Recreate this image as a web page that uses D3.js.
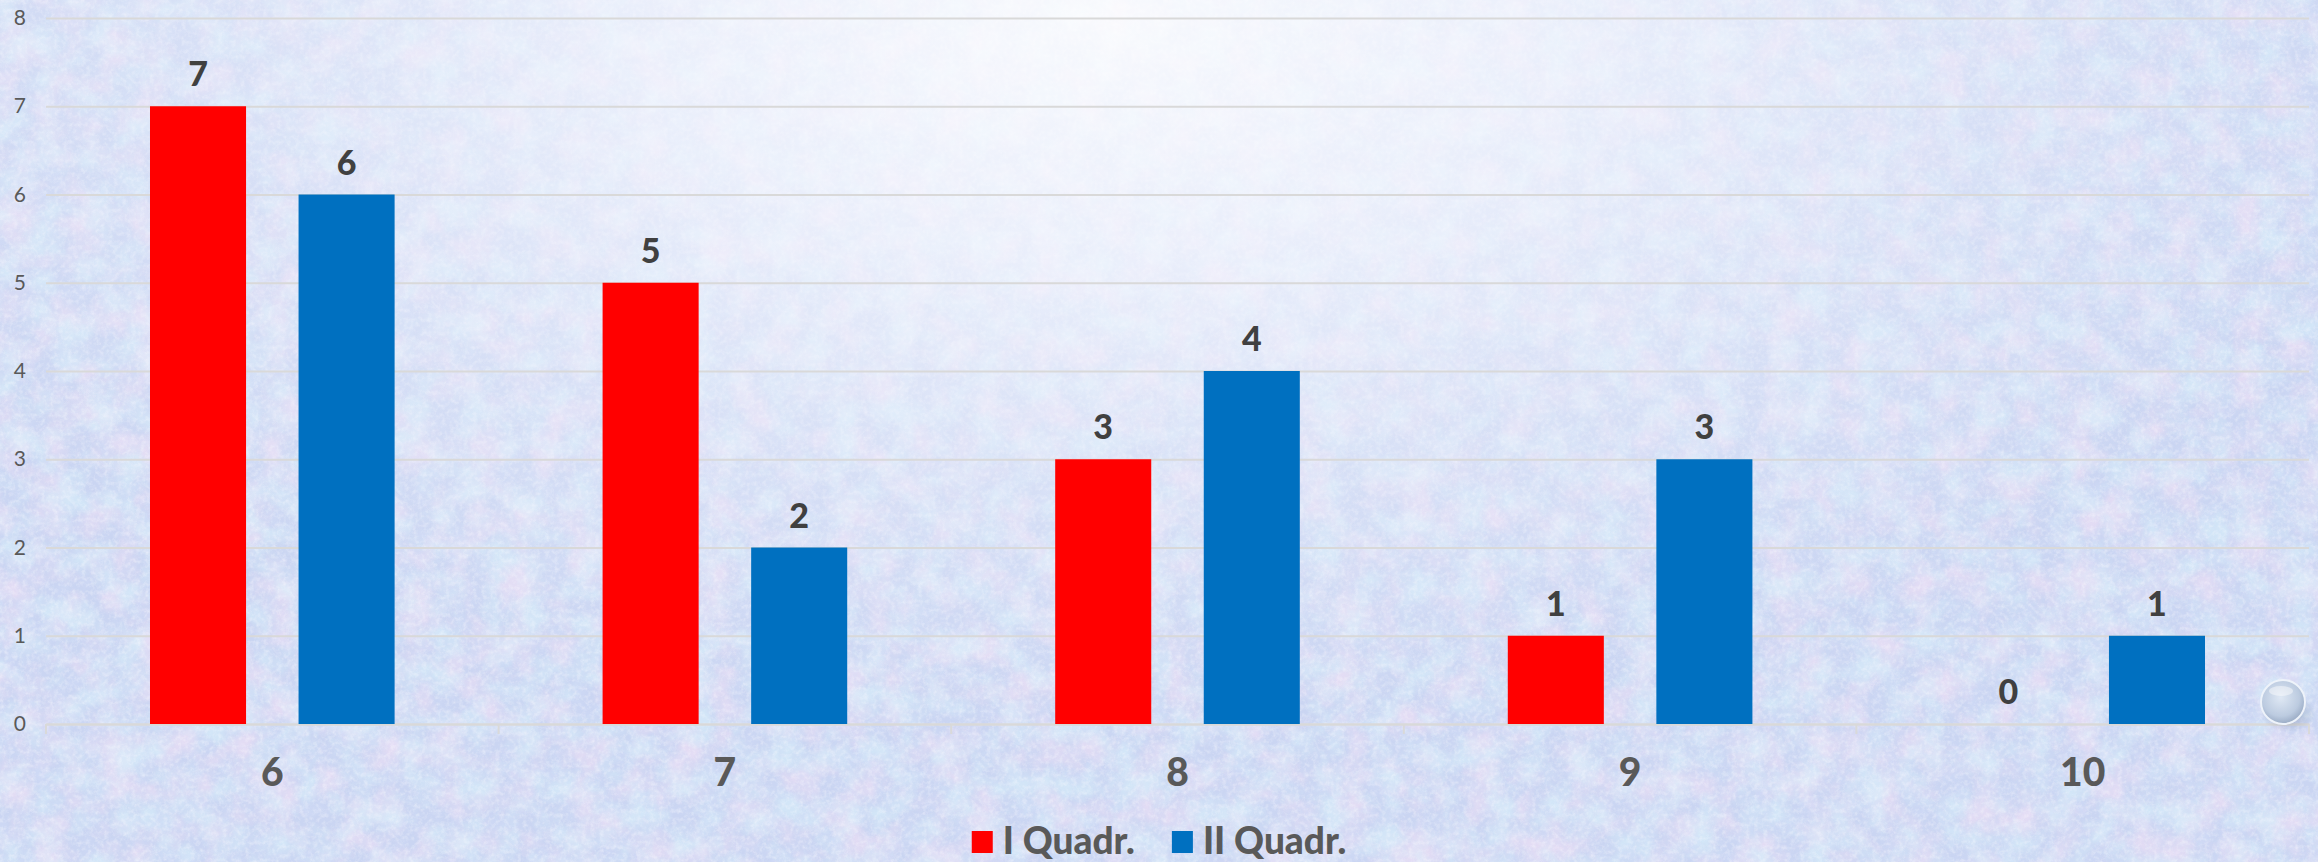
<!DOCTYPE html>
<html>
<head>
<meta charset="utf-8">
<script src="https://cdn.jsdelivr.net/npm/d3@7/dist/d3.min.js"></script>
<style>
  html, body { margin: 0; padding: 0; overflow: hidden; background: #c9d4f0; }
  svg { display: block; }
  text { font-family: "Lato", "Open Sans", sans-serif; }
</style>
</head>
<body>
<svg id="chart" width="2318" height="862"></svg>
<script>
// ---- data ----
const categories = ["6", "7", "8", "9", "10"];
const seriesNames = ["I Quadr.", "II Quadr."];
const seriesI = [7, 5, 3, 1, 0];
const seriesII = [6, 2, 4, 3, 1];
const yTicks = [0, 1, 2, 3, 4, 5, 6, 7, 8];
const colors = ["#FF0000", "#0070C0"];

const W = 2318, H = 862;
const svg = d3.select("#chart");
const defs = svg.append("defs");

// ---- background ----
function noiseFilter(id, freq, seed, rgb, k, b) {
  const f = defs.append("filter").attr("id", id).attr("x", 0).attr("y", 0).attr("width", "100%").attr("height", "100%");
  f.append("feTurbulence").attr("type", "fractalNoise").attr("baseFrequency", freq).attr("numOctaves", 4).attr("seed", seed);
  f.append("feColorMatrix").attr("type", "matrix")
    .attr("values", `0 0 0 0 ${rgb[0]}  0 0 0 0 ${rgb[1]}  0 0 0 0 ${rgb[2]}  ${k} 0 0 0 ${b}`);
}
noiseFilter("noisePink", 0.03, 3, [0.93, 0.76, 0.92], 2.4, -0.95);
noiseFilter("noiseCyan", 0.035, 11, [0.70, 0.90, 0.97], 2.4, -0.95);
noiseFilter("noiseBlue", 0.06, 21, [0.66, 0.74, 0.95], 2.0, -0.8);
noiseFilter("noiseFine", 0.22, 5, [0.97, 0.97, 1.0], 1.8, -0.75);

const glow2 = defs.append("radialGradient").attr("id", "glow2");
glow2.append("stop").attr("offset", "0%").attr("stop-color", "#ffffff").attr("stop-opacity", 0.85);
glow2.append("stop").attr("offset", "35%").attr("stop-color", "#f6f8fe").attr("stop-opacity", 0.7);
glow2.append("stop").attr("offset", "70%").attr("stop-color", "#eef2fc").attr("stop-opacity", 0.3);
glow2.append("stop").attr("offset", "100%").attr("stop-color", "#eef2fc").attr("stop-opacity", 0);

const bg = svg.append("g");
bg.append("rect").attr("width", W).attr("height", H).attr("fill", "#cad5f2");
bg.append("rect").attr("width", W).attr("height", H).attr("filter", "url(#noiseBlue)").attr("opacity", 0.45);
bg.append("rect").attr("width", W).attr("height", H).attr("filter", "url(#noisePink)").attr("opacity", 0.55);
bg.append("rect").attr("width", W).attr("height", H).attr("filter", "url(#noiseCyan)").attr("opacity", 0.55);
bg.append("rect").attr("width", W).attr("height", H).attr("filter", "url(#noiseFine)").attr("opacity", 0.45);
bg.append("ellipse").attr("cx", 1100).attr("cy", 20).attr("rx", 1350).attr("ry", 700).attr("fill", "url(#glow2)");

// ---- scales ----
const plot = { left: 46, right: 2309, top: 18, bottom: 724 };
const x = d3.scaleBand().domain(categories).range([plot.left, plot.right]).paddingInner(0).paddingOuter(0);
const xs = d3.scaleBand().domain(seriesNames).range([0, x.bandwidth()]).paddingInner(0.3535).paddingOuter(0.70);
const y = d3.scaleLinear().domain([0, 8]).range([plot.bottom, plot.top]);

// ---- gridlines & y labels ----
const yAxis = d3.axisLeft(y).tickValues(yTicks).tickFormat(d3.format("d"))
  .tickSize(-(plot.right - plot.left)).tickPadding(20);
const gy = svg.append("g").attr("transform", `translate(${plot.left},0)`).call(yAxis);
gy.select(".domain").remove();
gy.selectAll(".tick line").attr("stroke", "#d9d9d9").attr("stroke-width", 2);
gy.selectAll(".tick text").attr("fill", "#595959").attr("font-size", 21).attr("font-family", "Lato, sans-serif");

// ---- x axis ----
const xAxis = d3.axisBottom(x).tickSize(0).tickPadding(34);
const gx = svg.append("g").attr("transform", `translate(0,${plot.bottom})`).call(xAxis);
gx.select(".domain").attr("stroke", "#d9d9d9").attr("stroke-width", 2);
gx.selectAll(".tick text").attr("fill", "#595959").attr("font-size", 39).attr("font-weight", 900)
  .attr("font-family", "Lato, sans-serif");
// boundary tick marks
const bounds = categories.map(c => x(c)).concat([plot.right]);
gx.selectAll(".btick").data(bounds).enter().append("line")
  .attr("x1", d => d).attr("x2", d => d).attr("y1", 0).attr("y2", 10)
  .attr("stroke", "#d9d9d9").attr("stroke-width", 2);

// ---- bars ----
const rows = categories.map((c, i) => ({ cat: c, vals: [seriesI[i], seriesII[i]] }));
const groups = svg.append("g").selectAll("g").data(rows).enter().append("g")
  .attr("transform", d => `translate(${x(d.cat)},0)`);
groups.selectAll("rect").data(d => d.vals.map((v, k) => ({ v, k }))).enter().append("rect")
  .attr("x", d => xs(seriesNames[d.k]))
  .attr("width", xs.bandwidth())
  .attr("y", d => y(d.v))
  .attr("height", d => y(0) - y(d.v))
  .attr("fill", d => colors[d.k]);
groups.selectAll("text").data(d => d.vals.map((v, k) => ({ v, k }))).enter().append("text")
  .attr("x", d => xs(seriesNames[d.k]) + xs.bandwidth() / 2)
  .attr("y", d => y(d.v) - 20)
  .attr("text-anchor", "middle")
  .attr("fill", "#404040").attr("font-size", 34).attr("font-weight", 900)
  .text(d => d.v);

// ---- legend ----
const lg = svg.append("g");
const items = lg.selectAll("g").data(seriesNames).enter().append("g");
items.append("rect").attr("width", 21).attr("height", 22).attr("y", -23).attr("fill", (d, i) => colors[i]);
items.append("text").attr("x", 31).attr("y", 0).attr("fill", "#595959").attr("font-size", 37)
  .attr("font-weight", 900).text(d => d);
let cx = 0; const offs = [];
items.each(function () {
  offs.push(cx);
  const w = this.querySelector("text").getComputedTextLength();
  cx += 31 + w + 37;
});
const total = cx - 37;
items.attr("transform", (d, i) => `translate(${offs[i]},0)`);
lg.attr("transform", `translate(${1159 - total / 2},854)`);

// ---- decorative glass bead ----
const bead = defs.append("radialGradient").attr("id", "bead").attr("cx", 0.45).attr("cy", 0.4).attr("r", 0.65);
bead.append("stop").attr("offset", "0%").attr("stop-color", "#dfe8f4");
bead.append("stop").attr("offset", "65%").attr("stop-color", "#bccbe0");
bead.append("stop").attr("offset", "100%").attr("stop-color", "#90a2bd");
const shadow = defs.append("radialGradient").attr("id", "beadShadow");
shadow.append("stop").attr("offset", "0%").attr("stop-color", "#5a6a88").attr("stop-opacity", 0.45);
shadow.append("stop").attr("offset", "100%").attr("stop-color", "#5a6a88").attr("stop-opacity", 0);
svg.append("ellipse").attr("cx", 2288).attr("cy", 713).attr("rx", 28).attr("ry", 19).attr("fill", "url(#beadShadow)");
svg.append("circle").attr("cx", 2283).attr("cy", 702).attr("r", 22).attr("fill", "url(#bead)")
  .attr("stroke", "#eef3fa").attr("stroke-width", 2);
svg.append("ellipse").attr("cx", 2281).attr("cy", 691).attr("rx", 12).attr("ry", 5).attr("fill", "#ffffff").attr("opacity", 0.45);
</script>
</body>
</html>
